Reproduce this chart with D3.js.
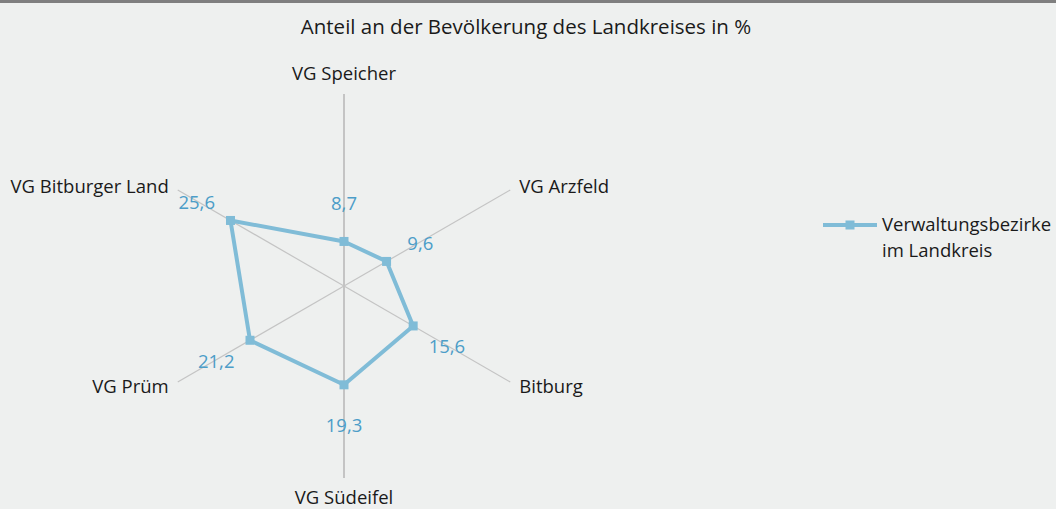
<!DOCTYPE html>
<html>
<head>
<meta charset="utf-8">
<script src="https://cdnjs.cloudflare.com/ajax/libs/d3/7.8.5/d3.min.js"></script>
<style>
  body { margin: 0; background: #eef0ef; }
  svg { display: block; font-family: "Open Sans", sans-serif; }
</style>
</head>
<body>
<div id="chart"></div>
<script>
// Daten
var categories = ["VG Speicher", "VG Arzfeld", "Bitburg", "VG Südeifel", "VG Prüm", "VG Bitburger Land"];
var values = [8.7, 9.6, 15.6, 19.3, 21.2, 25.6];
var valueLabels = ["8,7", "9,6", "15,6", "19,3", "21,2", "25,6"];
var seriesName = ["Verwaltungsbezirke", "im Landkreis"];
var title = "Anteil an der Bevölkerung des Landkreises in %";

var width = 1056;
var height = 509;
var cx = 344, cy = 286;
var radius = 192;

var svg = d3.select("#chart")
    .append("svg")
    .attr("width", width)
    .attr("height", height);

svg.append("rect")
    .attr("width", width)
    .attr("height", height)
    .attr("fill", "#eef0ef");

// grauer Balken oben
svg.append("rect")
    .attr("width", width)
    .attr("height", 3)
    .attr("fill", "#7f7f7f");

// Titel
svg.append("text")
    .attr("x", 526)
    .attr("y", 34)
    .attr("text-anchor", "middle")
    .attr("font-size", 20.5)
    .attr("fill", "#1a1a1a")
    .text(title);

var r = d3.scaleLinear()
    .domain([0, 37.5])
    .range([0, radius]);

var angle = d3.scalePoint()
    .domain(categories)
    .range([0, 2 * Math.PI * (categories.length - 1) / categories.length]);

function px(a, d) { return cx + d * Math.sin(a); }
function py(a, d) { return cy - d * Math.cos(a); }

var g = svg.append("g");

// Achsen
g.selectAll("line.axis")
    .data(categories)
    .enter().append("line")
    .attr("class", "axis")
    .attr("x1", cx).attr("y1", cy)
    .attr("x2", function(d) { return px(angle(d), radius); })
    .attr("y2", function(d) { return py(angle(d), radius); })
    .attr("stroke", "#c4c4c4")
    .attr("stroke-width", function(d, i) { return (i === 0 || i === 3) ? 2 : 1.2; });

// Achsenbeschriftung
g.selectAll("text.cat")
    .data(categories)
    .enter().append("text")
    .attr("class", "cat")
    .attr("x", function(d) {
        var a = angle(d), s = Math.sin(a);
        if (Math.abs(s) < 0.01) return cx;
        return px(a, radius) + (s > 0 ? 9 : -9);
    })
    .attr("y", function(d) {
        var a = angle(d), c = Math.cos(a);
        if (Math.abs(Math.sin(a)) < 0.01) return py(a, radius) + (c > 0 ? -14 : 26);
        return py(a, radius) + (c > 0 ? 3 : 11);
    })
    .attr("text-anchor", function(d) {
        var s = Math.sin(angle(d));
        if (Math.abs(s) < 0.01) return "middle";
        return s > 0 ? "start" : "end";
    })
    .attr("font-size", 18.5)
    .attr("fill", "#1a1a1a")
    .text(function(d) { return d; });

// Datenlinie
var line = d3.lineRadial()
    .angle(function(d, i) { return angle(categories[i]); })
    .radius(function(d) { return r(d); })
    .curve(d3.curveLinearClosed);

g.append("path")
    .datum(values)
    .attr("transform", "translate(" + cx + "," + cy + ")")
    .attr("fill", "none")
    .attr("stroke", "#80bcd7")
    .attr("stroke-width", 4)
    .attr("stroke-linejoin", "round")
    .attr("d", line);

// Marker
g.selectAll("rect.marker")
    .data(values)
    .enter().append("rect")
    .attr("class", "marker")
    .attr("x", function(d, i) { return px(angle(categories[i]), r(d)) - 4.5; })
    .attr("y", function(d, i) { return py(angle(categories[i]), r(d)) - 4.5; })
    .attr("width", 9)
    .attr("height", 9)
    .attr("fill", "#80bcd7");

// Datenbeschriftung
g.selectAll("text.val")
    .data(values)
    .enter().append("text")
    .attr("class", "val")
    .attr("x", function(d, i) { return px(angle(categories[i]), r(d) + 39); })
    .attr("y", function(d, i) { return py(angle(categories[i]), r(d) + 39) + 8; })
    .attr("text-anchor", "middle")
    .attr("font-size", 18.5)
    .attr("fill", "#4c9dc8")
    .text(function(d, i) { return valueLabels[i]; });

// Legende
var lg = svg.append("g");
lg.append("line")
    .attr("x1", 823).attr("x2", 877)
    .attr("y1", 225).attr("y2", 225)
    .attr("stroke", "#80bcd7")
    .attr("stroke-width", 4);
lg.append("rect")
    .attr("x", 845.5).attr("y", 220.5)
    .attr("width", 9).attr("height", 9)
    .attr("fill", "#80bcd7");
lg.selectAll("text")
    .data(seriesName)
    .enter().append("text")
    .attr("x", 882)
    .attr("y", function(d, i) { return 231 + i * 26; })
    .attr("font-size", 18.5)
    .attr("fill", "#1a1a1a")
    .text(function(d) { return d; });
</script>
</body>
</html>
